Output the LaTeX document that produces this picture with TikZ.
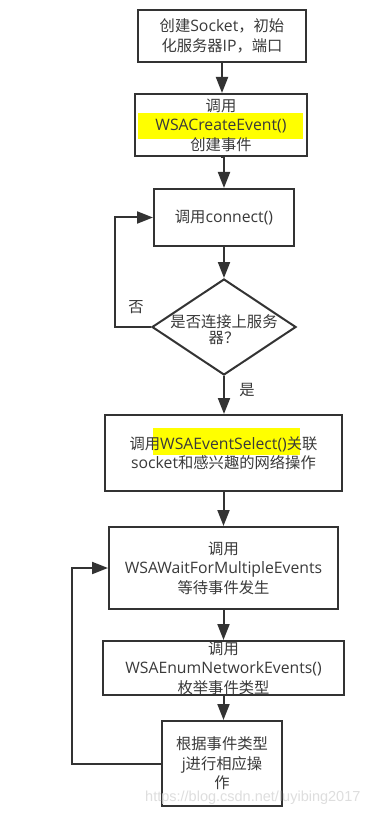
\documentclass[tikz,border=0pt]{standalone}
\usepackage{fontspec}
\setmainfont{Noto Sans CJK SC}
\newfontfamily\en{Open Sans}[Scale=1.03]
\newfontfamily\wmfont{Liberation Sans}
\usetikzlibrary{arrows.meta,shapes.geometric,backgrounds}
\definecolor{ln}{HTML}{333333}
\definecolor{tx}{HTML}{3A3A3A}
\definecolor{hl}{HTML}{FFFF00}
\tikzset{
  x=1pt,y=-1pt,
  box/.style={draw=ln,line width=2pt,inner sep=0pt,align=center,text=tx,
    font=\fontsize{15.3}{19.5}\selectfont},
  lbl/.style={text=tx,inner sep=0pt,font=\fontsize{15.3}{19.5}\selectfont},
  arr/.style={draw=ln,line width=2pt,-{Triangle[length=16pt,width=12pt]}},
}
\begin{document}
\begin{tikzpicture}
\useasboundingbox (0,0) rectangle (391,818);
\begin{scope}[on background layer]
\fill[white] (0,0) rectangle (391,818);
\fill[hl] (138,113) rectangle (303,139);
\fill[hl] (153,428) rectangle (300,455);
\end{scope}
\node[box,minimum width=168pt,minimum height=52pt] (b1) at (222,36) {创建{\en Socket}，初始\\化服务器{\en IP}，端口};
\node[box,minimum width=172pt,minimum height=62pt] (b2) at (221,125) {调用\\{\en WSACreateEvent()}\\创建事件};
\node[box,minimum width=140pt,minimum height=57pt] (b3) at (224,217.5) {调用{\en connect()}};
\node[diamond,draw=ln,line width=2pt,minimum width=144pt,minimum height=96pt,inner sep=0pt] (d) at (224,327) {};
\node[lbl,align=center,font=\fontsize{15.3}{16}\selectfont] (dt) at (224,330) {是否连接上服务\\器？};
\node[box,minimum width=237pt,minimum height=76pt] (b4) at (223.5,453) {调用{\en WSAEventSelect()}关联\\{\en socket}和感兴趣的网络操作};
\node[box,minimum width=229pt,minimum height=82pt] (b5) at (223.5,568) {调用\\{\en WSAWaitForMultipleEvents}\\等待事件发生};
\node[box,minimum width=241pt,minimum height=54pt] (b6) at (223.5,668) {调用\\{\en WSAEnumNetworkEvents()}\\枚举事件类型};
\node[box,minimum width=120pt,minimum height=85pt] (b7) at (222,763.5) {根据事件类型\\{\en j}进行相应操\\作};
\node[lbl] (no) at (136,307) {否};
\node[lbl] (yes) at (247,390) {是};
\node[text=black!13,inner sep=0pt,font=\wmfont\fontsize{14.5}{16}\selectfont,anchor=west] (wm) at (145,798) {https://blog.csdn.net/luyibing2017};
\draw[arr] (b1.south) -- (b1.south |- b2.north);
\draw[arr] (b2.south) -- (b2.south -| b3.north) -- (b3.north);
\draw[arr] (b3.south) -- (d.north);
\draw[arr] (d.south) -- (d.south |- b4.north);
\draw[arr] (b4.south) -- (b4.south |- b5.north);
\draw[arr] (b5.south) -- (b5.south |- b6.north);
\draw[arr] (b6.south) -- (b6.south |- b7.north);
\draw[arr] (d.west) -- ++(-36,0) |- (b3.west);
\draw[arr] (b7.west) -- ++(-89,0) |- (b5.west);
\end{tikzpicture}
\end{document}
